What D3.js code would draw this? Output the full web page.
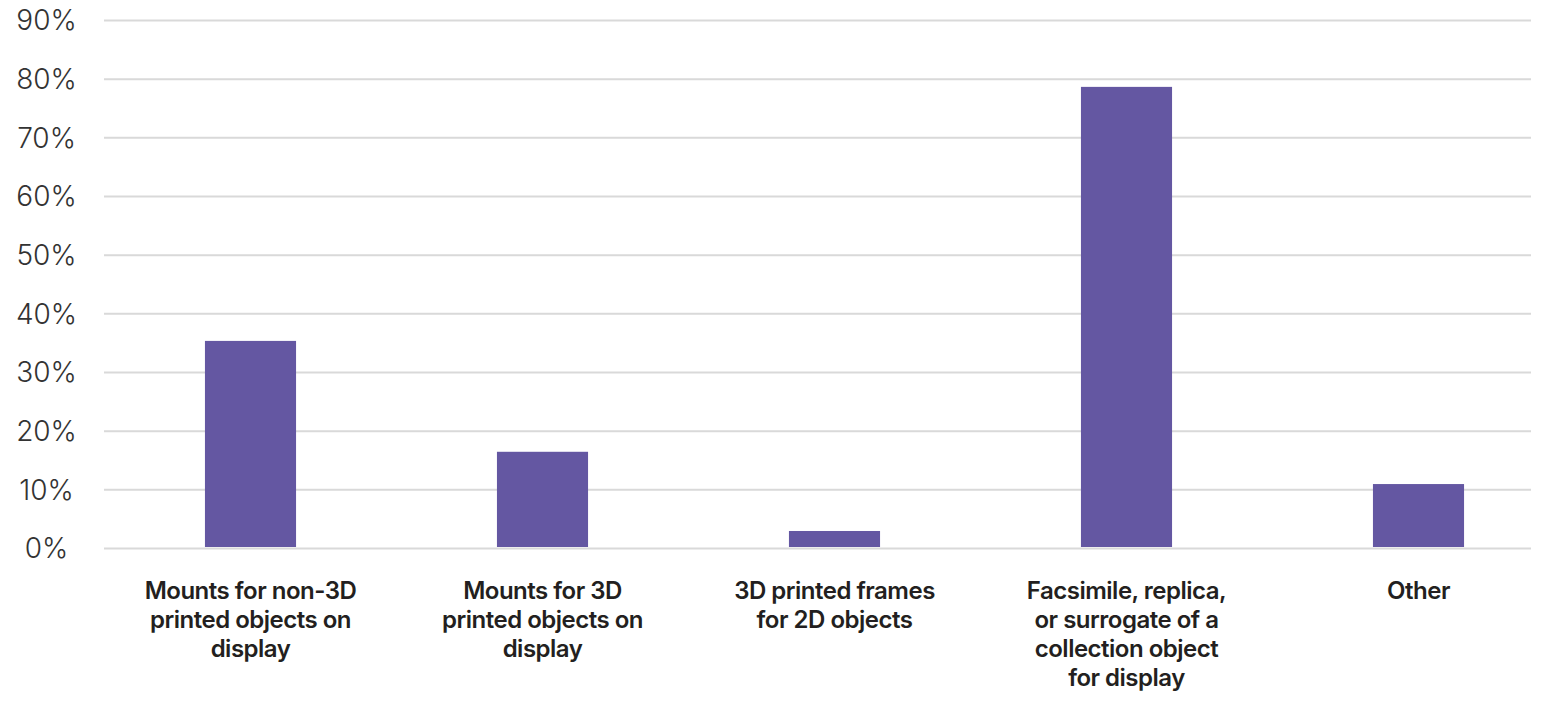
<!DOCTYPE html>
<html><head><meta charset="utf-8">
<script src="https://cdn.jsdelivr.net/npm/d3@7"></script>
<style>
body{margin:0;background:#fff;}
svg{display:block;}
.ytick text{font-family:Inter,"Noto Sans",sans-serif;font-weight:300;font-size:28px;fill:#333;}
.xlab{font-family:Inter,"Noto Sans",sans-serif;font-weight:600;font-size:24px;fill:#231f20;letter-spacing:-0.5px;}
</style></head>
<body>
<script>
const categories = [
  ["Mounts for non-3D","printed objects on","display"],
  ["Mounts for 3D","printed objects on","display"],
  ["3D printed frames","for 2D objects"],
  ["Facsimile, replica,","or surrogate of a","collection object","for display"],
  ["Other"]
];
const values = [35.3, 16.4, 2.9, 78.6, 10.9];
const yTicks = [0,10,20,30,40,50,60,70,80,90];

const W = 1541, H = 702;
const svg = d3.select("body").append("svg").attr("width", W).attr("height", H);

const y = d3.scaleLinear().domain([0, 90]).range([548, 20]);
const x = d3.scaleBand().domain(d3.range(categories.length)).range([104.5, 1564.5]).paddingInner(0.688).paddingOuter(0.344);
const gridX1 = 104, gridX2 = 1531;

const yAxis = d3.axisLeft(y).tickValues(yTicks).tickSize(-(gridX2 - gridX1)).tickFormat(d => d + "%");
const gy = svg.append("g").attr("transform", `translate(${gridX1},0)`).call(yAxis);
gy.select(".domain").remove();
gy.selectAll(".tick").attr("class", "tick ytick");
gy.selectAll(".tick line").attr("stroke", "#d9d9d9").attr("stroke-width", 2);
gy.selectAll(".tick text").attr("x", 46.5 - gridX1).attr("text-anchor", "middle").attr("dy", "0.35em");

svg.append("g").selectAll("rect").data(values).join("rect")
  .attr("x", (d, i) => x(i))
  .attr("width", x.bandwidth())
  .attr("y", d => y(d))
  .attr("height", d => y(0) - y(d) - 1)
  .attr("fill", "#6457a2");

const lab = svg.append("g").selectAll("text").data(categories).join("text")
  .attr("class", "xlab")
  .attr("text-anchor", "middle")
  .attr("x", (d, i) => x(i) + x.bandwidth() / 2)
  .attr("y", 599);
lab.selectAll("tspan").data(d => d).join("tspan")
  .attr("x", function(){ return this.parentNode.getAttribute("x"); })
  .attr("dy", (d, i) => i === 0 ? 0 : 29)
  .text(d => d);
</script>
</body></html>
